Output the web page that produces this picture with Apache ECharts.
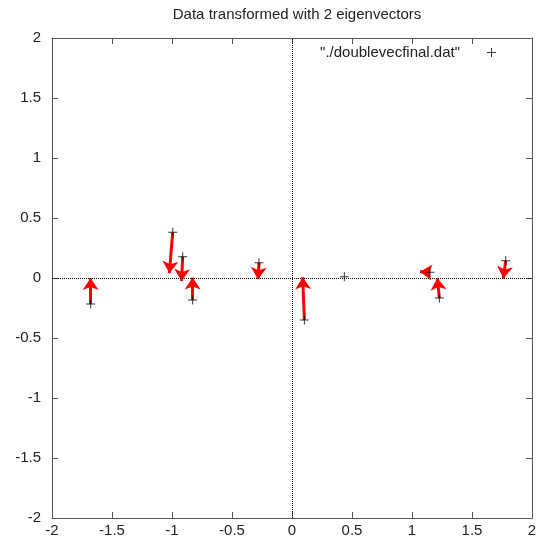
<!DOCTYPE html>
<html>
<head>
<meta charset="utf-8">
<script src="https://cdn.jsdelivr.net/npm/echarts@6/dist/echarts.min.js"></script>
<style>
  html, body { margin: 0; padding: 0; background: #fff; }
  #chart { width: 542px; height: 541px; }
</style>
</head>
<body>
<div id="chart"></div>
<script>
// data points
var pointsX = [-1.678, -0.994, -0.911, -0.828, -0.275, 0.103, 0.436, 1.15, 1.228, 1.781];
var pointsY = [-0.217, 0.381, 0.178, -0.183, 0.128, -0.35, 0.011, 0.047, -0.167, 0.144];

// arrows: start -> end (projections)
var arrowStartX = [-1.678, -0.994, -0.911, -0.828, -0.275, 0.103, 1.15, 1.228, 1.781];
var arrowStartY = [-0.217, 0.381, 0.178, -0.183, 0.128, -0.35, 0.047, -0.167, 0.144];
var arrowEndX = [-1.678, -1.022, -0.92, -0.828, -0.283, 0.089, 1.067, 1.211, 1.761];
var arrowEndY = [0.0, 0.04, -0.025, 0.005, -0.01, 0.006, 0.053, 0.0, -0.003];

var seriesName = '"./doublevecfinal.dat"';

var plusPath = 'path://M4,0 H5 V4 H9 V5 H5 V9 H4 V5 H0 V4 H4 Z';
var font = 'Liberation Sans, Arial, sans-serif';

var myChart = echarts.init(document.getElementById('chart'));

var scatterData = pointsX.map(function (x, i) { return [x, pointsY[i]]; });
var arrowData = arrowStartX.map(function (x, i) {
  return { coords: [[x, arrowStartY[i]], [arrowEndX[i], arrowEndY[i]]] };
});

// gnuplot style axis: border line + inward ticks on every side
function axisBase(pos, show, margin) {
  return {
    type: 'value',
    position: pos,
    min: -2,
    max: 2,
    interval: 0.5,
    axisLine: { show: true, onZero: false, lineStyle: { color: '#555', width: 1 } },
    axisTick: { show: true, inside: true, length: 6, lineStyle: { color: '#555' } },
    axisLabel: {
      show: show,
      color: '#222',
      fontSize: 15,
      fontFamily: font,
      margin: margin,
      formatter: function (v) { return String(v); }
    },
    splitLine: { show: false }
  };
}

var option = {
  animation: false,
  backgroundColor: '#fff',
  title: {
    text: 'Data transformed with 2 eigenvectors',
    left: 292,
    textAlign: 'center',
    top: 2,
    textStyle: { fontSize: 15, fontWeight: 'normal', color: '#222', fontFamily: font }
  },
  legend: {
    data: [{ name: seriesName, icon: plusPath }],
    right: 41,
    top: 40,
    align: 'right',
    itemWidth: 9,
    itemHeight: 9,
    textStyle: { fontSize: 15, color: '#222', fontFamily: font, padding: [0, 22, 0, 0] }
  },
  grid: { left: 52, right: 10, top: 38, bottom: 23, containLabel: false },
  xAxis: [axisBase('bottom', true, 5), axisBase('top', false, 5)],
  yAxis: [axisBase('left', true, 11), axisBase('right', false, 5)],
  series: [
    {
      name: 'arrows',
      type: 'lines',
      coordinateSystem: 'cartesian2d',
      data: arrowData,
      symbol: ['none', 'arrow'],
      symbolSize: 12,
      lineStyle: { color: '#ff0000', width: 3, opacity: 1 },
      z: 3
    },
    {
      name: seriesName,
      type: 'scatter',
      data: scatterData,
      symbol: plusPath,
      symbolSize: 9,
      itemStyle: { color: '#000' },
      z: 5,
      markLine: {
        silent: true,
        symbol: 'none',
        label: { show: false },
        lineStyle: { color: '#000', type: 'dotted', width: 1 },
        data: [{ xAxis: 0 }, { yAxis: 0 }]
      }
    }
  ]
};

myChart.setOption(option);
</script>
</body>
</html>
